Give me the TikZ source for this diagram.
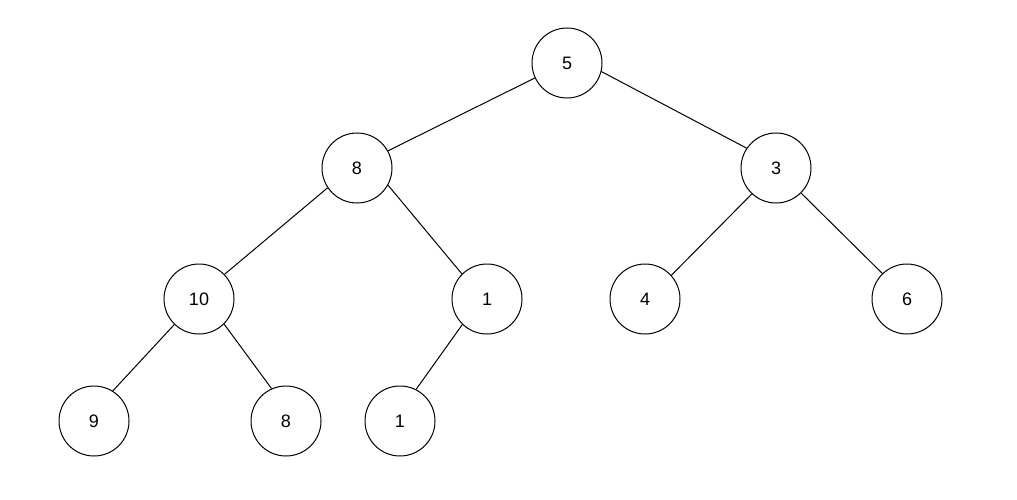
\documentclass[tikz,border=0pt]{standalone}
\usepackage{fontspec}
\setmainfont{Liberation Sans}
\begin{document}
\begin{tikzpicture}[x=1pt,y=-1pt,
  tnode/.style={draw,circle,minimum size=70pt,inner sep=0pt,line width=1pt,font=\fontsize{18}{18}\selectfont},
  edge/.style={line width=1pt}]
\useasboundingbox (0,0) rectangle (1017,500);
\node[tnode] (n5) at (567,63) {5};
\node[tnode] (n8) at (357,168) {8};
\node[tnode] (n3) at (776,168) {3};
\node[tnode] (n10) at (199,299) {10};
\node[tnode] (n1a) at (487,299) {1};
\node[tnode] (n4) at (645,299) {4};
\node[tnode] (n6) at (907,299) {6};
\node[tnode] (n9) at (94,421) {9};
\node[tnode] (n8b) at (286,421) {8};
\node[tnode] (n1b) at (400,421) {1};
\draw[edge] (n5.205) -- (n8.29);
\draw[edge] (n5.346) -- (n3.146);
\draw[edge] (n8.214) -- (n10.44);
\draw[edge] (n8.331) -- (n1a.135);
\draw[edge] (n3.227) -- (n4.42);
\draw[edge] (n3.315) -- (n6.134);
\draw[edge] (n10.226) -- (n9.58);
\draw[edge] (n10.315) -- (n8b.114);
\draw[edge] (n1a.226) -- (n1b.63);
\end{tikzpicture}
\end{document}
